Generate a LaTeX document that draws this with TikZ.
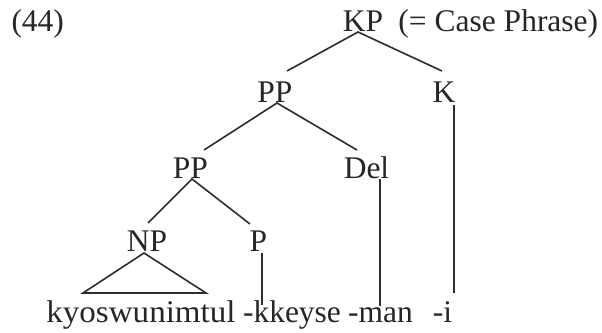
\documentclass[tikz,border=0pt]{standalone}
\usepackage{fontspec}
\setmainfont{Liberation Serif}
\begin{document}
\begin{tikzpicture}[x=0.4pt,y=-0.4pt,
  lab/.style={inner sep=0pt,anchor=base,text=black!85,font=\fontsize{12.6}{14}\selectfont},
  edge/.style={draw=black!82,line width=0.65pt}]
\useasboundingbox (0,0) rectangle (602,333);
% labels
\node[lab,anchor=base west] (ex) at (11,32) {(44)};
\node[lab] (KP) at (363,32) {KP};
\node[lab,anchor=base west] (gloss) at (398,32) {(= Case Phrase)};
\node[lab] (PPa) at (275,103) {PP};
\node[lab] (K) at (444,103) {K};
\node[lab] (PPb) at (190.5,179) {PP};
\node[lab] (Del) at (366.5,179) {Del};
\node[lab] (NP) at (147,251) {NP};
\node[lab] (P) at (258.5,252) {P};
\node[lab] (w1) at (141,323) {\scalebox{1.05}[1]{kyoswunimtul}};
\node[lab] (w2) at (292,323) {-kkeyse};
\node[lab] (w3) at (380.5,323) {-man};
\node[lab] (w4) at (442.5,323) {-i};
% connector points
\coordinate (kpA) at (358,32);
\coordinate (kpL) at (287,71);
\coordinate (kpR) at (442,71);
\coordinate (ppaA) at (277,103);
\coordinate (ppaL) at (204,150);
\coordinate (ppaR) at (357,150);
\coordinate (ppbA) at (192,179);
\coordinate (ppbL) at (148,223);
\coordinate (ppbR) at (250,224);
\coordinate (npA) at (144,253);
\coordinate (npL) at (83,293);
\coordinate (npR) at (206,293);
\coordinate (pT) at (262,253);
\coordinate (pB) at (262,305);
\coordinate (delT) at (380,179);
\coordinate (delB) at (380,306);
\coordinate (kT) at (454,105);
\coordinate (kB) at (454,293);
% connectors
\draw[edge] (kpL) -- (kpA) -- (kpR);
\draw[edge] (ppaL) -- (ppaA) -- (ppaR);
\draw[edge] (ppbL) -- (ppbA) -- (ppbR);
\draw[edge] (npA) -- (npL) -- (npR) -- cycle;
\draw[edge] (pT) -- (pB);
\draw[edge] (delT) -- (delB);
\draw[edge] (kT) -- (kB);
\end{tikzpicture}
\end{document}
